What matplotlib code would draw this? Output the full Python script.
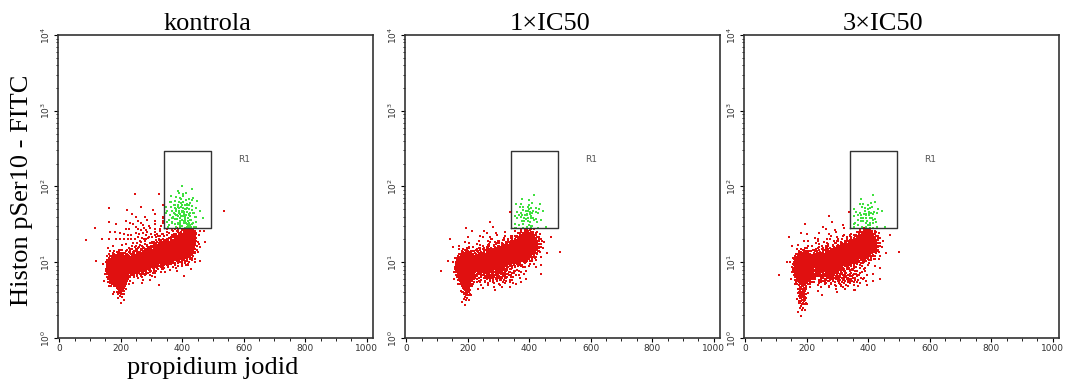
import numpy as np
import matplotlib.pyplot as plt
from matplotlib.ticker import LogLocator, MultipleLocator, FixedLocator, NullFormatter

# panel titles and axis text
titles = ['kontrola', '1\u00d7IC50', '3\u00d7IC50']
ylabel = 'Histon pSer10 - FITC'
xlabel = 'propidium jodid'

# gate R1 (PI from, PI to, FITC from, FITC to)
gate = [340, 495, 28, 290]
gate_label = (600, 230)

# population clusters:
# PI centre, FITC centre, PI spread, FITC spread (decades), events
kontrola = [
    (190, 8.0, 15, 0.09, 1100),
    (200, 5.0, 8, 0.09, 90),
    (250, 9.5, 22, 0.08, 420),
    (300, 11.5, 24, 0.08, 480),
    (350, 13.5, 22, 0.08, 560),
    (400, 16.0, 18, 0.09, 620),
    (425, 19.0, 10, 0.10, 240),
    (300, 18.0, 75, 0.22, 220),
    (400, 45.0, 28, 0.15, 120),
]
ic50_1 = [
    (195, 8.5, 14, 0.09, 1000),
    (195, 5.0, 8, 0.11, 90),
    (250, 10.0, 22, 0.08, 420),
    (300, 11.5, 24, 0.08, 420),
    (350, 13.5, 22, 0.08, 480),
    (395, 17.0, 18, 0.09, 560),
    (290, 7.0, 42, 0.08, 180),
    (300, 14.0, 75, 0.16, 150),
    (395, 42.0, 24, 0.11, 60),
]
ic50_3 = [
    (190, 8.5, 14, 0.09, 1000),
    (185, 4.0, 8, 0.13, 90),
    (250, 10.0, 22, 0.08, 420),
    (300, 11.5, 24, 0.08, 420),
    (350, 14.0, 22, 0.08, 480),
    (395, 17.5, 18, 0.09, 560),
    (300, 6.5, 48, 0.08, 200),
    (300, 14.0, 75, 0.19, 150),
    (395, 42.0, 24, 0.11, 55),
]
panels = [kontrola, ic50_1, ic50_3]


def events(clusters):
    # deterministic low-discrepancy fill (R2 sequence) of each cluster
    g = 1.32471795724474602596
    xs, ys = [], []
    k = 0
    for cx, cy, sx, sd, n in clusters:
        i = np.arange(k + 1, k + n + 1)
        k += n
        u = (0.5 + i / g) % 1
        v = (0.5 + i / g ** 2) % 1
        r = np.sqrt(-2 * np.log(np.clip(u, 1e-4, 1)))
        xs.append(cx + sx * r * np.cos(2 * np.pi * v))
        ys.append(cy * 10 ** (sd * r * np.sin(2 * np.pi * v)))
    return np.concatenate(xs), np.concatenate(ys)


fig = plt.figure(figsize=(10.67, 3.81), dpi=100)
lefts = [0.0544, 0.3796, 0.6973]
title_x = [0.475, 0.46, 0.44]
serif = 'Liberation Serif'

for j, clusters in enumerate(panels):
    ax = fig.add_axes([lefts[j], 0.113, 0.295, 0.795])
    x, y = events(clusters)
    inside = (x >= gate[0]) & (x <= gate[1]) & (y >= gate[2]) & (y <= gate[3])
    ax.scatter(x[~inside], y[~inside], s=0.8, marker='s', c='#e01010', linewidths=0)
    ax.scatter(x[inside], y[inside], s=0.8, marker='s', c='#40e040', linewidths=0)
    ax.plot([gate[0], gate[1], gate[1], gate[0], gate[0]],
            [gate[2], gate[2], gate[3], gate[3], gate[2]], color='#333333', lw=1)
    ax.text(gate_label[0], gate_label[1], 'R1', fontsize=6.5, color='#555555',
            ha='center', va='center', family='DejaVu Sans')

    ax.set_yscale('log')
    ax.set_ylim(1, 1e4)
    ax.set_xlim(-4, 1020)
    ax.xaxis.set_major_locator(FixedLocator([0, 200, 400, 600, 800, 1000]))
    ax.xaxis.set_minor_locator(MultipleLocator(50))
    ax.yaxis.set_major_locator(LogLocator(base=10, numticks=6))
    ax.yaxis.set_minor_locator(LogLocator(base=10, subs=np.arange(2, 10), numticks=20))
    ax.yaxis.set_minor_formatter(NullFormatter())
    ax.tick_params(which='major', length=3, width=0.8, labelsize=6.5, labelcolor='#333333', pad=1.5)
    ax.tick_params(which='minor', length=1.8, width=0.6)
    for lab in ax.get_yticklabels():
        lab.set_rotation(90)
        lab.set_va('center')
    for s in ax.spines.values():
        s.set_color('#333333')
        s.set_linewidth(1.2)
    ax.set_title(titles[j], family=serif, fontsize=19, x=title_x[j], pad=3)

fig.text(0.021, 0.5, ylabel, rotation=90, va='center', ha='center', family=serif, fontsize=19)
fig.text(0.199, 0.035, xlabel, va='center', ha='center', family=serif, fontsize=19)

fig.savefig('out.png', dpi=100)
